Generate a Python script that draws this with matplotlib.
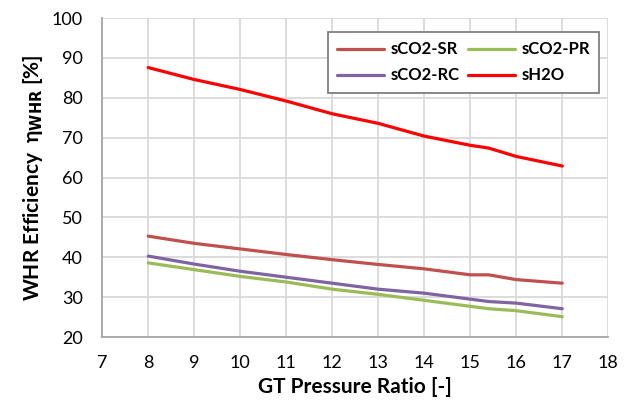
import matplotlib.pyplot as plt

pr = [8, 9, 10, 11, 12, 13, 14, 15, 15.4, 16, 17]
sco2_sr = [45.3, 43.5, 42.1, 40.7, 39.4, 38.2, 37.1, 35.6, 35.6, 34.4, 33.5]
sco2_pr = [38.6, 36.9, 35.2, 33.8, 32.0, 30.7, 29.2, 27.7, 27.1, 26.6, 25.1]
sco2_rc = [40.3, 38.3, 36.5, 35.0, 33.5, 32.0, 31.0, 29.5, 28.9, 28.5, 27.1]
sh2o = [87.6, 84.6, 82.1, 79.2, 76.0, 73.6, 70.4, 68.1, 67.4, 65.3, 62.9]

plt.rcParams['font.family'] = ['Lato', 'DejaVu Sans']

fig = plt.figure(figsize=(6.31, 4.12), dpi=100)
ax = fig.add_axes([0.162, 0.182, 0.802, 0.774])

l_sr, = ax.plot(pr, sco2_sr, color='#C0504D', lw=2.3, label='sCO2-SR', solid_capstyle='round')
l_pr, = ax.plot(pr, sco2_pr, color='#9BBB59', lw=2.3, label='sCO2-PR', solid_capstyle='round')
l_rc, = ax.plot(pr, sco2_rc, color='#8064A2', lw=2.3, label='sCO2-RC', solid_capstyle='round')
l_h2o, = ax.plot(pr, sh2o, color='#FF0000', lw=2.3, label='sH2O', solid_capstyle='round')

ax.set_xlim(7, 18)
ax.set_ylim(20, 100)
ax.set_xticks(range(7, 19))
ax.set_yticks(range(20, 101, 10))
ax.grid(True, color='#d9d9d9', lw=1.3)
ax.set_axisbelow(True)
ax.tick_params(length=0, labelsize=13, colors='black')
ax.tick_params(axis='y', pad=14)
ax.tick_params(axis='x', pad=13)
for s in ['top', 'right']:
    ax.spines[s].set_visible(False)
for s in ['left', 'bottom']:
    ax.spines[s].set_color('#a6a6a6')
    ax.spines[s].set_linewidth(1.3)

ax.set_xlabel('GT Pressure Ratio [-]', fontsize=15, fontweight='bold', labelpad=4)
ax.set_ylabel('WHR Efficiency  η$_{\\mathbf{WHR}}$ [%]', fontsize=15, fontweight='bold', labelpad=5)

leg = ax.legend([l_sr, l_rc, l_pr, l_h2o], ['sCO2-SR', 'sCO2-RC', 'sCO2-PR', 'sH2O'],
                ncol=2, loc='upper left', bbox_to_anchor=(0.43, 0.982),
                fancybox=False, framealpha=1, edgecolor='#7f7f7f',
                prop={'weight': 'bold', 'size': 12}, handlelength=2.8,
                columnspacing=0.5, handletextpad=0.4, borderpad=0.55, labelspacing=0.6)
leg.get_frame().set_linewidth(1.3)

fig.savefig('out.png', dpi=100)
